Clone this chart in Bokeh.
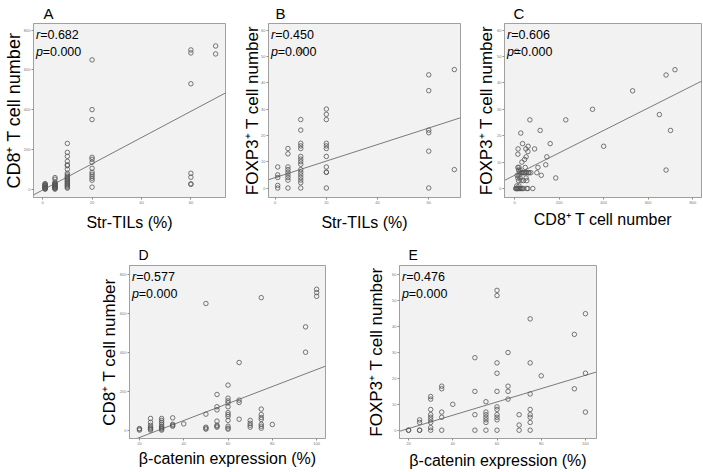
import numpy as np
from bokeh.plotting import figure
from bokeh.models import Range1d, FixedTicker, Label
from bokeh.layouts import row, column
from bokeh.embed import file_html
from bokeh.resources import INLINE

FONT = "Liberation Sans"

# ---------------- data ----------------
# Panel A: Str-TILs (%) vs CD8+ T cell number
A_tils = [1, 5, 10, 20, 60, 70]
A_cd8 = [
    [0, 2, 4, 6, 8, 10, 12, 15, 18, 20, 22, 25, 28],
    [0, 3, 5, 8, 10, 12, 15, 18, 20, 22, 25, 28, 30, 35, 50, 58],
    [230, 185, 165, 140, 122, 118, 100, 80, 72, 65, 60, 55, 50, 45, 40, 35, 30, 25, 20, 15, 10, 5],
    [650, 400, 350, 160, 150, 135, 105, 85, 75, 65, 55, 45, 10],
    [700, 685, 530, 80, 60, 27, 24],
    [720, 680],
]
A_fit = (-4.6, 6.6)          # intercept, slope
A_r, A_p = "0.682", "0.000"

# Panel B: Str-TILs (%) vs FOXP3+ T cell number
B_tils = [1, 5, 10, 20, 60, 70]
B_foxp3 = [
    [8, 5, 4, 1, 0],
    [15, 13, 8, 7, 6, 5, 4, 3, 0],
    [52, 26, 22, 17, 16, 15, 12, 11, 10, 9, 7, 6, 5, 4, 3, 2, 0],
    [30, 28, 26, 17, 16, 15, 12, 8, 6, 6, 0],
    [43, 37, 22, 21, 14, 0],
    [45, 7],
]
B_fit = (3.96, 0.314)
B_r, B_p = "0.450", "0.000"

# Panel C: CD8+ T cell number vs FOXP3+ T cell number
C_cd8 = [720, 680, 530, 650, 700, 680, 350, 400, 230, 185, 160, 145, 140, 120, 115,
         105, 100, 90, 82, 73, 69, 63, 61, 60, 55, 52, 51, 52, 45, 40, 48, 36, 33, 28,
         10, 16, 15, 20, 18, 15, 25, 22, 30, 12, 20, 25, 30, 35, 15, 18, 10, 12, 5, 8,
         10, 14, 18, 22, 26, 30, 35, 40, 55, 60, 20, 45, 40, 50, 55, 65]
C_foxp3 = [45, 43, 37, 28, 22, 7, 30, 16, 26, 4, 17, 12, 9, 5, 22,
           8, 6, 15, 0, 6, 26, 6, 16, 14, 3, 4, 15, 12, 11, 6, 8, 17, 10, 21,
           52, 15, 13, 8, 7, 8, 7, 6, 6, 5, 5, 4, 3, 6, 4, 3, 1, 0, 0, 0,
           0, 0, 0, 0, 0, 0, 0, 0, 0, 0, 1, 6, 3, 6, 6, 6]
C_fit = (5.0, 0.0425)
C_r, C_p = "0.606", "0.000"

# Panel D: beta-catenin expression (%) vs CD8+ T cell number
D_bcat = [20, 25, 30, 35, 40, 50, 55, 60, 65, 70, 75, 80, 95, 100]
D_cd8 = [
    [0, 5, 8],
    [0, 5, 10, 15, 25, 40, 60],
    [0, 5, 10, 15, 20, 30, 40, 50, 60],
    [20, 25, 30, 63],
    [32],
    [650, 82, 15, 10, 5],
    [183, 120, 104, 46, 25, 20, 15],
    [231, 164, 150, 140, 120, 90, 80, 70, 50, 20, 10, 5],
    [347, 154, 142, 56],
    [50, 35, 25, 15],
    [680, 108, 80, 65, 55, 30, 20, 10],
    [29],
    [530, 400],
    [723, 706, 687],
]
D_fit = (-125.0, 4.36)
D_r, D_p = "0.577", "0.000"

# Panel E: beta-catenin expression (%) vs FOXP3+ T cell number
E_bcat = [20, 25, 30, 35, 40, 50, 55, 60, 65, 70, 75, 80, 95, 100]
E_foxp3 = [
    [0, 0],
    [4, 3, 0, 0],
    [13, 12, 8, 6, 5, 4, 3, 1, 0],
    [17, 16, 7, 5, 0],
    [10],
    [28, 15, 6, 0],
    [11, 7, 6, 5, 4, 3, 0],
    [54, 52, 26, 22, 15, 9, 8, 6, 5, 4, 0],
    [30, 17, 15, 12],
    [6, 2, 0],
    [43, 26, 14, 8, 6, 5, 3, 0],
    [21],
    [37, 16],
    [45, 22, 7],
]
E_fit = (-4.5, 0.257)
E_r, E_p = "0.476", "0.000"

ticks_pct = [0, 20, 40, 60, 80]
ticks_bcat = [20, 40, 60, 80, 100]
ticks_cd8 = [0, 200, 400, 600, 800]
ticks_foxp3 = [0, 10, 20, 30, 40, 50, 60]


def expand(levels, groups):
    xs, ys = [], []
    for lv, g in zip(levels, groups):
        xs += [lv] * len(g)
        ys += list(g)
    return xs, ys


def panel(letter, xs, ys, fit, r_txt, p_txt, xlab, ylab, xr, yr, xt, yt,
          W, H, bl, br, bt, bb, ylab_size, ylab_so, xlab_so, t_size, t_off, t_so):
    p = figure(width=W, height=H, x_range=Range1d(*xr), y_range=Range1d(*yr),
               output_backend="svg", toolbar_location=None,
               min_border_left=bl, min_border_right=br,
               min_border_top=bt, min_border_bottom=bb)
    p.background_fill_color = "#f2f2f2"
    p.border_fill_color = "white"
    p.outline_line_color = "#a0a0a0"
    p.outline_line_width = 1
    p.grid.visible = False

    p.title.text = letter
    p.title.align = "left"
    p.title.offset = t_off
    p.title.standoff = t_so
    p.title.text_font = FONT
    p.title.text_font_size = t_size
    p.title.text_font_style = "normal"
    p.title.text_color = "black"

    for ax in (p.xaxis[0], p.yaxis[0]):
        ax.axis_line_color = "#a0a0a0"
        ax.major_tick_line_color = "#8c8c8c"
        ax.major_tick_out = 2
        ax.major_tick_in = 0
        ax.minor_tick_line_color = None
        ax.major_label_text_font = FONT
        ax.major_label_text_font_size = "4px"
        ax.major_label_text_color = "#777777"
        ax.major_label_standoff = 1
        ax.axis_label_text_font = FONT
        ax.axis_label_text_font_style = "normal"
        ax.axis_label_text_color = "black"
    p.xaxis[0].ticker = FixedTicker(ticks=xt)
    p.yaxis[0].ticker = FixedTicker(ticks=yt)
    p.xaxis[0].axis_label = xlab
    p.xaxis[0].axis_label_text_font_size = "16px"
    p.xaxis[0].axis_label_standoff = xlab_so
    p.yaxis[0].axis_label = ylab
    p.yaxis[0].axis_label_text_font_size = ylab_size
    p.yaxis[0].axis_label_standoff = ylab_so

    # regression line
    lx = np.array([xr[0], xr[1]], dtype=float)
    ly = fit[0] + fit[1] * lx
    p.line(lx, ly, line_color="#7a7a7a", line_width=1)

    # data points
    p.scatter(xs, ys, marker="circle", size=4.5, fill_color=None,
              line_color="#555555", line_width=0.8)

    # statistics text (pixel offsets from the frame's top-left corner)
    fw = W - bl - br
    fh = H - bt - bb
    ux = (xr[1] - xr[0]) / fw
    uy = (yr[1] - yr[0]) / fh
    common = dict(text_font=FONT, text_font_size="12.5px", text_color="black",
                  text_baseline="alphabetic", text_align="left")
    p.add_layout(Label(x=xr[0] + 2.5 * ux, y=yr[1] - 11.5 * uy, text="r",
                       text_font_style="italic", **common))
    p.add_layout(Label(x=xr[0] + 6.8 * ux, y=yr[1] - 11.5 * uy, text="=" + r_txt, **common))
    p.add_layout(Label(x=xr[0] + 2.5 * ux, y=yr[1] - 28.5 * uy, text="p",
                       text_font_style="italic", **common))
    p.add_layout(Label(x=xr[0] + 9.3 * ux, y=yr[1] - 28.5 * uy, text="=" + p_txt, **common))
    return p


ax_, ay_ = expand(A_tils, A_cd8)
bx_, by_ = expand(B_tils, B_foxp3)
dx_, dy_ = expand(D_bcat, D_cd8)
ex_, ey_ = expand(E_bcat, E_foxp3)

pA = panel("A", ax_, ay_, A_fit, A_r, A_p, "Str-TILs (%)", "CD8\u207a T cell number",
           (-3.7, 74), (-42, 833), ticks_pct, ticks_cd8,
           240, 235, 30, 15, 22, 38, "18px", -3, 7, "15px", 10, 3)
pB = panel("B", bx_, by_, B_fit, B_r, B_p, "Str-TILs (%)", "FOXP3\u207a T cell number",
           (-2.6, 72.4), (-3.6, 62.5), ticks_pct, ticks_foxp3,
           228, 235, 28, 8, 23, 38, "17px", -4, 7, "15px", 7, 4)
pC = panel("C", C_cd8, C_foxp3, C_fit, C_r, C_p, "CD8\u207a T cell number", "FOXP3\u207a T cell number",
           (-45, 839), (-3.4, 62.5), ticks_cd8, ticks_foxp3,
           235, 235, 36, 2, 23, 35, "17px", -2, 4, "15px", 9, 4)
pD = panel("D", dx_, dy_, D_fit, D_r, D_p, "\u03b2-catenin expression (%)", "CD8\u207a T cell number",
           (15.5, 104), (-43, 845), ticks_bcat, ticks_cd8,
           345, 236, 129, 20, 30, 33, "17px", -2, 2, "14px", 9, 5)
pE = panel("E", ex_, ey_, E_fit, E_r, E_p, "\u03b2-catenin expression (%)", "FOXP3\u207a T cell number",
           (15.9, 105), (-3.2, 63.6), ticks_bcat, ticks_foxp3,
           358, 236, 54, 107, 30, 33, "17px", 3, 4, "14px", 9, 5)

layout = column(row(pA, pB, pC), row(pD, pE))

open("out.html", "w").write(file_html(layout, INLINE))
